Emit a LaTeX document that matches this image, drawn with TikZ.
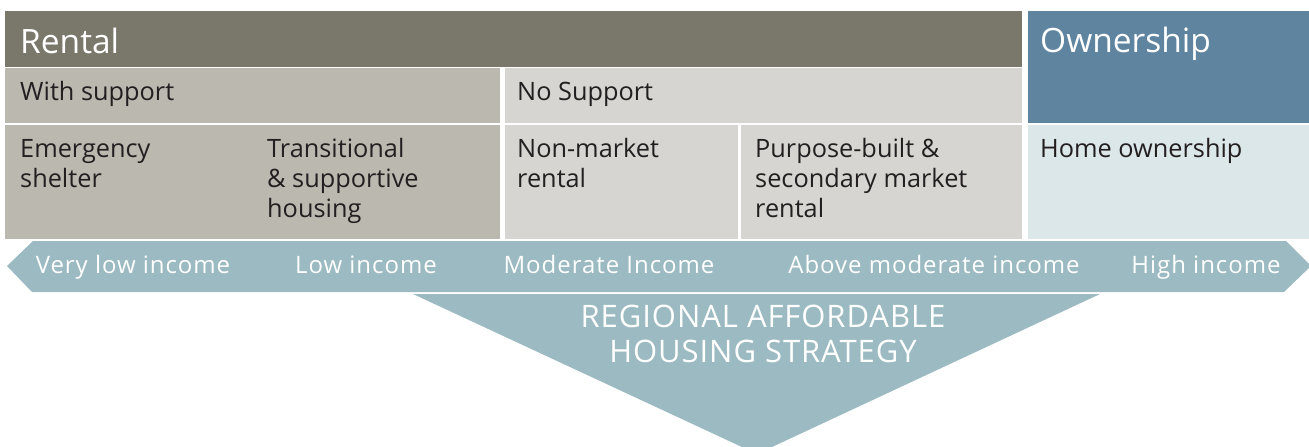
\documentclass[tikz,border=0pt]{standalone}
\usepackage{fontspec}
\setmainfont{Open Sans}
\definecolor{rentDark}{HTML}{7A776B}
\definecolor{rentMid}{HTML}{BBB8B0}
\definecolor{rentLight}{HTML}{D6D5D1}
\definecolor{ownDark}{HTML}{5F84A0}
\definecolor{ownLight}{HTML}{DCE7E9}
\definecolor{bandBlue}{HTML}{9BBAC2}
\definecolor{textDark}{HTML}{231F20}

\begin{document}
\begin{tikzpicture}[x = 1pt, y = -1pt,
	cell/.style = {anchor = base west, align = left, inner sep = 0pt, text = textDark, font = \fontsize{25.3}{30}\selectfont},
	head/.style = {anchor = base west, inner sep = 0pt, text = white, font = \fontsize{33.5}{36}\selectfont},
	income/.style = {anchor = base, inner sep = 0pt, text = white, font = \fontsize{24}{28}\selectfont\addfontfeature{LetterSpace = 4}}]
		\useasboundingbox (0, 0) rectangle (1309, 447);
		%%%%%%%%%%%%%
		\fill [rentDark] (5, 11) rectangle (1022, 67);
		\fill [ownDark] (1028, 11) rectangle (1309, 123);
		\fill [rentMid] (5, 68) rectangle (500, 123);
		\fill [rentLight] (505, 68) rectangle (1022, 123);
		\fill [rentMid] (5, 125) rectangle (500, 239);
		\fill [rentLight] (505, 125) rectangle (738, 239);
		\fill [rentLight] (741, 125) rectangle (1022, 239);
		\fill [ownLight] (1028, 125) rectangle (1309, 239);
		\fill [bandBlue] (7, 266) -- (33, 241) -- (1286, 241) -- (1311, 266) -- (1284, 292) -- (32, 292) -- cycle;
		\fill [bandBlue] (413, 294) -- (1100, 294) -- (757, 454) -- cycle;
		%%%%%%%%%%%%%
		\node [head] (rental) at (20, 53) {Rental};
		\node [head] (own) at (1040, 52) {Ownership};
		\node [cell] (ws) at (20, 100) {With support};
		\node [cell] (ns) at (517, 100) {No Support};
		\node [cell] (es) at (20, 187) {Emergency\\shelter};
		\node [cell] (ts) at (267, 217) {Transitional\\\& supportive\\housing};
		\node [cell] (nm) at (517, 187) {Non-market\\rental};
		\node [cell] (pb) at (755, 217) {Purpose-built \&\\secondary market\\rental};
		\node [cell] (ho) at (1040, 157) {Home ownership};
		%%%%%%%%%%%%%
		\node [income] (i1) at (133, 273) {Very low income};
		\node [income] (i2) at (366, 273) {Low income};
		\node [income] (i3) at (609, 273) {Moderate Income};
		\node [income] (i4) at (934, 273) {Above moderate income};
		\node [income] (i5) at (1206, 273) {High income};
		\node [anchor = base, align = center, inner sep = 0pt, text = white, font = \fontsize{31}{35}\selectfont\addfontfeature{LetterSpace = 3}] (ras) at (763, 362) {REGIONAL AFFORDABLE\\HOUSING STRATEGY};
\end{tikzpicture}
\end{document}
